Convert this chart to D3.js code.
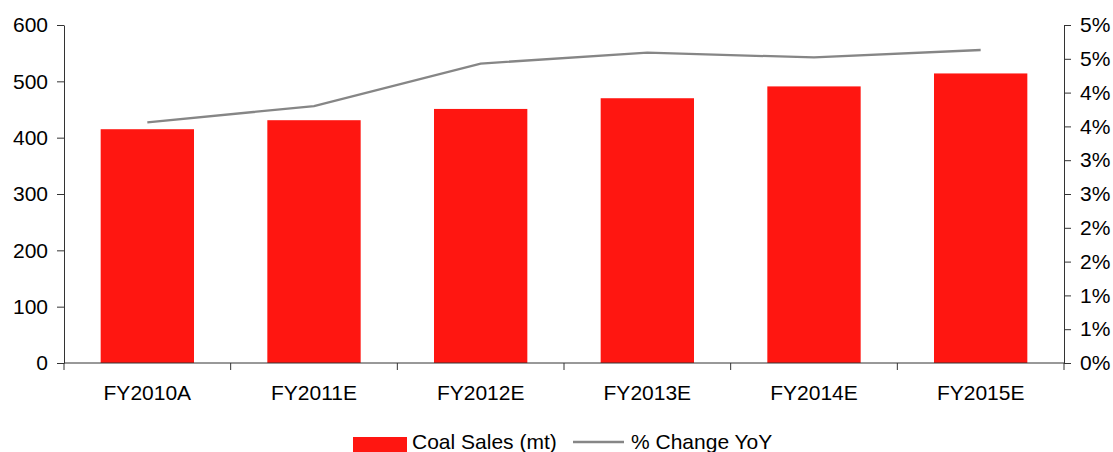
<!DOCTYPE html>
<html><head><meta charset="utf-8">
<script src="https://cdn.jsdelivr.net/npm/d3@7"></script>
<style>
html,body{margin:0;padding:0;background:#fff;}
svg{display:block;font-family:"Liberation Sans",Arial,sans-serif;}
</style></head>
<body><svg id="c" width="1113" height="452"></svg>
<script>
const categories = ["FY2010A","FY2011E","FY2012E","FY2013E","FY2014E","FY2015E"];
const coalSales = [415, 431, 451, 470, 491, 514];
const pctChange = [3.56, 3.80, 4.43, 4.59, 4.52, 4.63];
const leftTicks = [0,100,200,300,400,500,600];
const rightTicks = [0,0.5,1,1.5,2,2.5,3,3.5,4,4.5,5];
const rightTickLabels = ["0%","1%","1%","2%","2%","3%","3%","4%","4%","5%","5%"];
const seriesNames = ["Coal Sales (mt)","% Change YoY"];

const m = {left:64, right:1064, top:25, bottom:363};
const svg = d3.select("#c");
const x = d3.scaleBand().domain(categories).range([m.left, m.right]).paddingInner(0.44).paddingOuter(0.22);
const yL = d3.scaleLinear().domain([0,600]).range([m.bottom, m.top]);
const yR = d3.scaleLinear().domain([0,5]).range([m.bottom, m.top]);
const axisColor = "#333";
const fs = "21px";

// bars
svg.append("g").selectAll("rect").data(categories).join("rect")
  .attr("x", d => x(d)).attr("width", x.bandwidth())
  .attr("y", (d,i) => yL(coalSales[i]))
  .attr("height", (d,i) => m.bottom - yL(coalSales[i]))
  .attr("fill", "#ff1611");

// line
const line = d3.line().x((d,i) => x(categories[i]) + x.bandwidth()/2).y(d => yR(d));
svg.append("path").datum(pctChange).attr("d", line)
  .attr("fill","none").attr("stroke","#868686").attr("stroke-width",2.3);

// left axis
const gL = svg.append("g").attr("transform",`translate(${m.left},0)`)
  .call(d3.axisLeft(yL).tickValues(leftTicks).tickSize(7).tickPadding(9).tickSizeOuter(0));
// right axis
const gR = svg.append("g").attr("transform",`translate(${m.right},0)`)
  .call(d3.axisRight(yR).tickValues(rightTicks).tickFormat((d,i)=>rightTickLabels[i]).tickSize(7).tickPadding(9).tickSizeOuter(0));
// bottom axis: ticks at category boundaries
const gB = svg.append("g").attr("transform",`translate(0,${m.bottom})`);
gB.append("line").attr("x1",m.left).attr("x2",m.right).attr("y1",0).attr("y2",0).attr("stroke",axisColor);
const bounds = d3.range(categories.length+1).map(i => m.left + i*(m.right-m.left)/categories.length);
gB.selectAll("line.t").data(bounds).join("line").attr("class","t")
  .attr("x1",d=>d).attr("x2",d=>d).attr("y1",0).attr("y2",7).attr("stroke",axisColor);
gB.selectAll("text").data(categories).join("text")
  .attr("x", d => x(d)+x.bandwidth()/2).attr("y", 37)
  .attr("text-anchor","middle").attr("font-size",fs).attr("fill","#000").text(d=>d);

[gL,gR].forEach(g=>{
  g.selectAll(".domain").attr("stroke",axisColor);
  g.selectAll(".tick line").attr("stroke",axisColor);
  g.selectAll("text").attr("font-size",fs).attr("fill","#000").attr("font-family","Liberation Sans, Arial, sans-serif");
});

// legend
const lg = svg.append("g");
lg.append("rect").attr("x",353).attr("y",437).attr("width",54).attr("height",16).attr("fill","#ff1611");
lg.append("text").attr("x",412).attr("y",449).attr("font-size",fs).text(seriesNames[0]);
lg.append("line").attr("x1",573).attr("x2",624).attr("y1",442).attr("y2",442).attr("stroke","#868686").attr("stroke-width",2.3);
lg.append("text").attr("x",631).attr("y",449).attr("font-size",fs).text(seriesNames[1]);
</script></body></html>
